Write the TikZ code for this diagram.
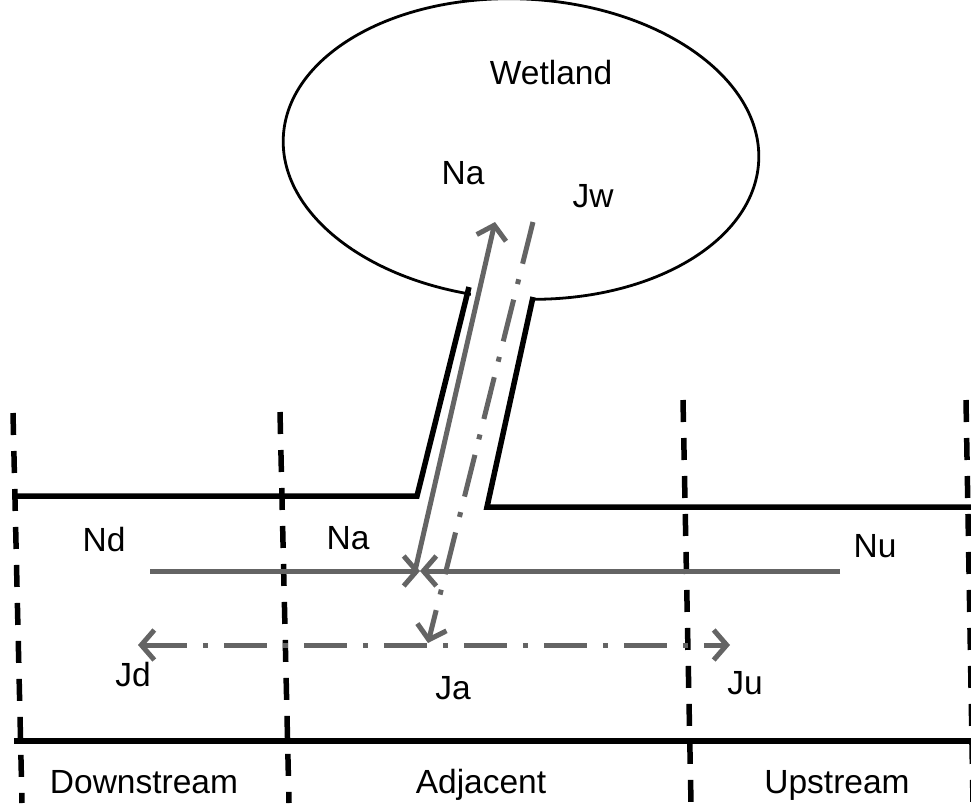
\documentclass[tikz,border=0pt]{standalone}
\usepackage{fontspec}
\setmainfont{Liberation Sans}
\usetikzlibrary{arrows.meta}
\definecolor{flowgray}{RGB}{100,100,100}
\begin{document}
\begin{tikzpicture}[x=1pt,y=-1pt,
  lbl/.style={font=\fontsize{33.5}{40}\selectfont, inner sep=0pt, anchor=base},
  wall/.style={line width=5.5pt, black, line join=miter},
  zone/.style={line width=5.5pt, black, dash pattern=on 22pt off 16pt},
  flow/.style={line width=5pt, draw=flowgray},
  flowtip/.style={-{Straight Barb[length=13pt,width=30pt]}},
  dashdot/.style={dash pattern=on 43pt off 16pt on 5pt off 16pt}]
\useasboundingbox (0,0) rectangle (971,803);
\clip (0,0) rectangle (971,803);

% wetland
\draw[line width=2.8pt] (521,149) ellipse [x radius=238, y radius=150, rotate=-3];
\fill[white] (471,278) rectangle (531,304);

% channel and river banks
\draw[wall] (15,496) -- (417,496) -- (469,287);
\draw[wall] (533,297) -- (487,507) -- (975,507);
\draw[wall] (14,741) -- (975,741);

% zone boundaries
\draw[zone] (13,413) -- (22,803);
\draw[zone] (280,412) -- (289,803);
\draw[zone] (683,400) -- (691,803);
\draw[zone] (966,400) -- (973,803);

% flow end points
\coordinate (c) at (420,571);
\coordinate (ndS) at (150,571);
\coordinate (nuS) at (840,571);
\coordinate (naB) at (415,571);
\coordinate (naT) at (495,222);
\coordinate (jwT) at (533,222);
\coordinate (jwB) at (428,643);
\coordinate (jdE) at (138,645);
\coordinate (juE) at (730,645);

% N flows
\draw[flow,flowtip] (ndS) -- (c);
\draw[flow,flowtip] (nuS) -- (c);
\draw[flow,flowtip] (naB) -- (naT);

% J flows
\draw[flow,dashdot,flowtip] (jwT) -- (jwB);
\draw[flow,dashdot,{Straight Barb[length=13pt,width=30pt]}-{Straight Barb[length=13pt,width=30pt]}] (jdE) -- (juE);

% labels
\node[lbl] (wet) at (551,84) {Wetland};
\node[lbl] (na1) at (463,184) {Na};
\node[lbl] (jw)  at (593,207) {Jw};
\node[lbl] (nd)  at (104,551) {Nd};
\node[lbl] (na2) at (348,549) {Na};
\node[lbl] (nu)  at (875,557) {Nu};
\node[lbl] (jd)  at (133,686) {Jd};
\node[lbl] (ja)  at (453,699) {Ja};
\node[lbl] (ju)  at (745,694) {Ju};
\node[lbl] (down) at (144,793) {Downstream};
\node[lbl] (adj)  at (481,793) {Adjacent};
\node[lbl] (up)   at (837,793) {Upstream};
\end{tikzpicture}
\end{document}
